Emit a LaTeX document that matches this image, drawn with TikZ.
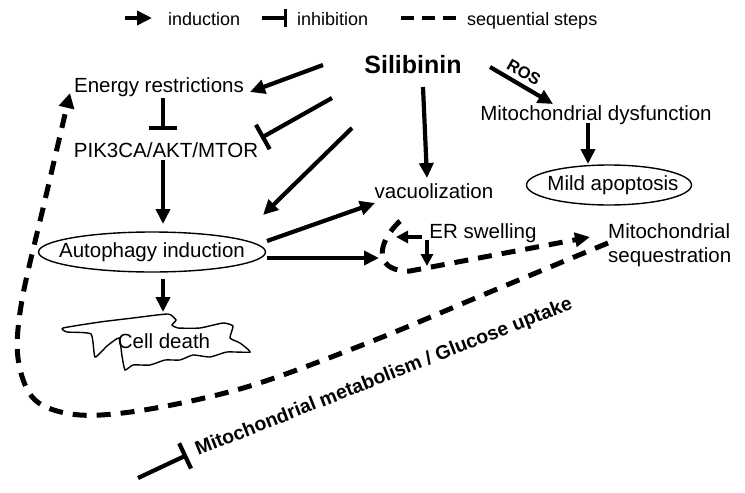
\documentclass[tikz,border=0pt]{standalone}
\usepackage{fontspec}
\setmainfont{Liberation Sans}
\usetikzlibrary{arrows.meta,shapes.geometric}
\begin{document}
\begin{tikzpicture}[x=1pt,y=-1pt,
  txt/.style={font=\fontsize{20.5}{24}\selectfont, inner sep=0pt, anchor=base},
  legtxt/.style={font=\fontsize{18}{22}\selectfont, inner sep=0pt, anchor=base west},
  arr/.style={line width=4.2pt, -{Triangle[length=15pt,width=14pt]}},
  inh/.style={line width=4.2pt, -{Bar[width=28pt]}},
  seq/.style={line width=5pt, dash pattern=on 14pt off 10pt},
  ell/.style={ellipse, draw, line width=1.4pt, inner sep=0pt,
    font=\fontsize{20.5}{24}\selectfont},
  cellshape/.style={line width=1.4pt}]
\useasboundingbox (0,0) rectangle (745,493);

% legend
\coordinate (l1a) at (125,18); \coordinate (l1b) at (152,18);
\draw[arr] (l1a) -- (l1b);
\node[legtxt] (lind) at (168,25) {induction};
\coordinate (l2a) at (262,18); \coordinate (l2b) at (287,18);
\draw[line width=3.5pt, -{Bar[width=18pt]}] (l2a) -- (l2b);
\node[legtxt] (linh) at (297,25) {inhibition};
\coordinate (l3a) at (401,18); \coordinate (l3b) at (456,18);
\draw[line width=4.5pt, dash pattern=on 13pt off 8pt] (l3a) -- (l3b);
\node[legtxt] (lseq) at (467,25) {sequential steps};

% nodes
\node[txt, font=\bfseries\fontsize{25}{30}\selectfont] (sil) at (413,73) {Silibinin};
\node[txt] (energy) at (159,92) {Energy restrictions};
\node[txt] (pik) at (166,157) {PIK3CA/AKT/MTOR};
\node[ell, minimum width=227pt, minimum height=40pt] (auto) at (152,252) {\makebox[0pt]{Autophagy induction}};
\node[txt] (cell) at (164,348) {Cell death};
\node[txt] (vac) at (434,198) {vacuolization};
\node[txt] (mitod) at (596,120) {Mitochondrial dysfunction};
\node[ell, minimum width=165pt, minimum height=40pt] (mild) at (609,185) {\makebox[0pt]{\hspace{8pt}Mild apoptosis}};
\node[txt] (er) at (483,238) {ER swelling};
\node[txt, anchor=base west, align=left] (mseq) at (608,262) {Mitochondrial\\sequestration};
\node[inner sep=0pt, anchor=base, rotate=-30, font=\bfseries\fontsize{16.5}{20}\selectfont] (ros) at (521,77) {ROS};
\node[inner sep=0pt, anchor=base, rotate=21.5, font=\bfseries\fontsize{19.5}{23}\selectfont] (metab) at (386,382) {Mitochondrial metabolism / Glucose uptake};

% cell death outline
\draw[cellshape] plot[smooth cycle, tension=0.3] coordinates {
  (63,328) (100,322) (133,318) (168,314) (176,320) (172,325) (178,328)
  (200,328) (223,323) (233,326) (230,338) (240,343) (250,352)
  (227,352) (210,357) (193,355) (180,360) (165,360) (150,365) (133,365)
  (125,370) (122,356) (119,338) (107,346) (95,357) (91,334) (67,332)};

% connector end points
\coordinate (s1) at (323,65);  \coordinate (e1) at (250,92);
\coordinate (s2) at (163,98);  \coordinate (e2) at (163,130);
\coordinate (s3) at (332,98);  \coordinate (e3) at (261,138);
\coordinate (s4) at (163,160); \coordinate (e4) at (163,224);
\coordinate (s5) at (352,128); \coordinate (e5) at (263,215);
\coordinate (s6) at (267,241); \coordinate (e6) at (375,203);
\coordinate (s7) at (267,258); \coordinate (e7) at (379,258);
\coordinate (s8) at (163,279); \coordinate (e8) at (163,312);
\coordinate (s9) at (423,87);  \coordinate (e9) at (427,178);
\coordinate (s10) at (490,67); \coordinate (e10) at (553,104);
\coordinate (s11) at (588,123); \coordinate (e11) at (588,164);
\coordinate (s12) at (422,237); \coordinate (e12) at (396,237);
\coordinate (s13) at (427,240); \coordinate (e13) at (427,266);
\coordinate (lp1) at (400,221); \coordinate (lp2) at (410,271); \coordinate (lp3) at (590,237);
\coordinate (s14) at (138,478); \coordinate (e14) at (187,455);

\draw[arr] (s1) -- (e1);
\draw[inh] (s2) -- (e2);
\draw[inh] (s3) -- (e3);
\draw[arr] (s4) -- (e4);
\draw[arr] (s5) -- (e5);
\draw[arr] (s6) -- (e6);
\draw[arr] (s7) -- (e7);
\draw[arr] (s8) -- (e8);
\draw[arr] (s9) -- (e9);
\draw[arr] (s10) -- (e10);
\draw[arr] (s11) -- (e11);
\draw[line width=3.5pt, -{Triangle[length=12pt,width=12pt]}] (s12) -- (e12);
\draw[line width=3.5pt, -{Triangle[length=12pt,width=12pt]}] (s13) -- (e13);
\draw[inh] (s14) -- (e14);

% dashed sequential steps
\draw[seq, -{Triangle[length=15pt,width=14pt]}] (lp1) .. controls (374,246) and (376,272) .. (lp2) -- (lp3);
\draw[seq, -{Triangle[length=15pt,width=15pt]}] plot[smooth, tension=0.55] coordinates {
  (608,243) (490,292) (370,342) (250,386) (150,409) (80,415) (35,400)
  (18,358) (22,300) (45,200) (70,93)};
\end{tikzpicture}
\end{document}
